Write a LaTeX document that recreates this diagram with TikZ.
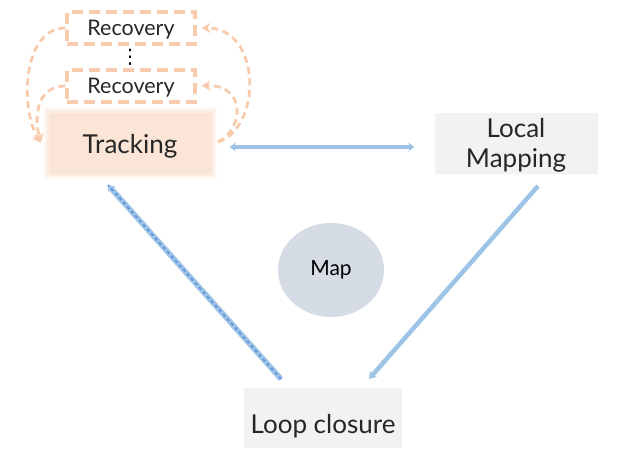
\documentclass[tikz,border=0pt]{standalone}
\usepackage{fontspec}
\setmainfont{Lato}
\newfontfamily\symfont{DejaVu Sans}
\usetikzlibrary{arrows.meta,shapes.geometric}
\definecolor{orng}{HTML}{F8CBAD}
\definecolor{peach}{HTML}{FBE5D6}
\definecolor{lgray}{HTML}{F2F2F2}
\definecolor{lblue}{HTML}{9DC3E6}
\definecolor{dblue}{HTML}{5B8FD9}
\definecolor{mapc}{HTML}{D6DCE5}
\definecolor{txt}{HTML}{262626}
\tikzset{
  recbox/.style={draw=orng, line width=3.2pt, dash pattern=on 11pt off 6pt, minimum width=128pt, minimum height=32pt, inner sep=0pt, text=txt, text height=15.5pt, text depth=0pt, font=\fontsize{21.5}{24}\selectfont},
  procbox/.style={minimum width=163pt, minimum height=61pt, inner sep=0pt, text=txt, align=center, text depth=0pt, font=\fontsize{26}{30}\selectfont},
  orarrow/.style={draw=orng, line width=2.8pt, dash pattern=on 7pt off 4.5pt, -{Stealth[length=9pt,width=10pt,fill=orng]}},
  bluearrow/.style={draw=lblue, line width=4.5pt, -{Stealth[length=7pt,width=9pt]}},
}
\begin{document}
\begin{tikzpicture}[x=1pt,y=-1pt]
\useasboundingbox (0,0) rectangle (617,448);
% Tracking with soft glow
\foreach \i/\o in {6/12,4/25,2/45}{
  \fill[peach, opacity=0.\o] (48-\i,112-\i) rectangle (212+\i,174+\i);
}
\node[procbox, fill=peach, text height=21.7pt] (trk) at (130,143) {Tracking};
\node[procbox, fill=lgray, label={[align=center, text=txt, font=\fontsize{26}{30}\selectfont, yshift=-2.5pt]center:Local\\Mapping}] (lm) at (516,143) {};
\node[procbox, fill=lgray, minimum width=158pt, minimum height=60pt, text height=30.7pt] (lc) at (323,418) {Loop closure};
\node[ellipse, fill=mapc, minimum width=106pt, minimum height=94pt, inner sep=0pt, text=black, font=\fontsize{21}{24}\selectfont] (map) at (331,270) {Map};
\node[recbox] (r1) at (131,28) {Recovery};
\node[recbox] (r2) at (131,86) {Recovery};
\node[text=black, inner sep=0pt, font=\symfont\fontsize{20}{20}\selectfont] (dots) at (130,57) {⋮};
% orange curves
\coordinate (tl) at (41,143);
\coordinate (tr) at (218,142);
\draw[orarrow] (r1.west) .. controls (22,28) and (20,110) .. (tl);
\draw[orarrow] (r2.west) .. controls (36,86) and (34,118) .. (tl);
\draw[orarrow] (tr) .. controls (262,128) and (262,28) .. ([xshift=5pt]r1.east);
\draw[orarrow] (tr) .. controls (245,128) and (245,84) .. ([xshift=5pt]r2.east);
% blue arrows
\draw[draw=lblue, line width=3.5pt, {Stealth[length=6pt,width=9pt]}-{Stealth[length=6pt,width=9pt]}] ([xshift=18pt,yshift=-4pt]trk.east) -- ([xshift=-20pt,yshift=-4pt]lm.west);
\coordinate (lmS) at (538,186);
\coordinate (lcN) at (369,379);
\draw[bluearrow] (lmS) -- (lcN);
\coordinate (lcA) at (281,379);
\coordinate (trS) at (108,185);
\draw[draw=lblue, line width=5.5pt, -{Stealth[length=6pt,width=9pt]}] (lcA) -- (trS);
\draw[draw=dblue, line width=1.6pt, dash pattern=on 3pt off 3pt] (lcA) -- (trS);
\end{tikzpicture}
\end{document}
